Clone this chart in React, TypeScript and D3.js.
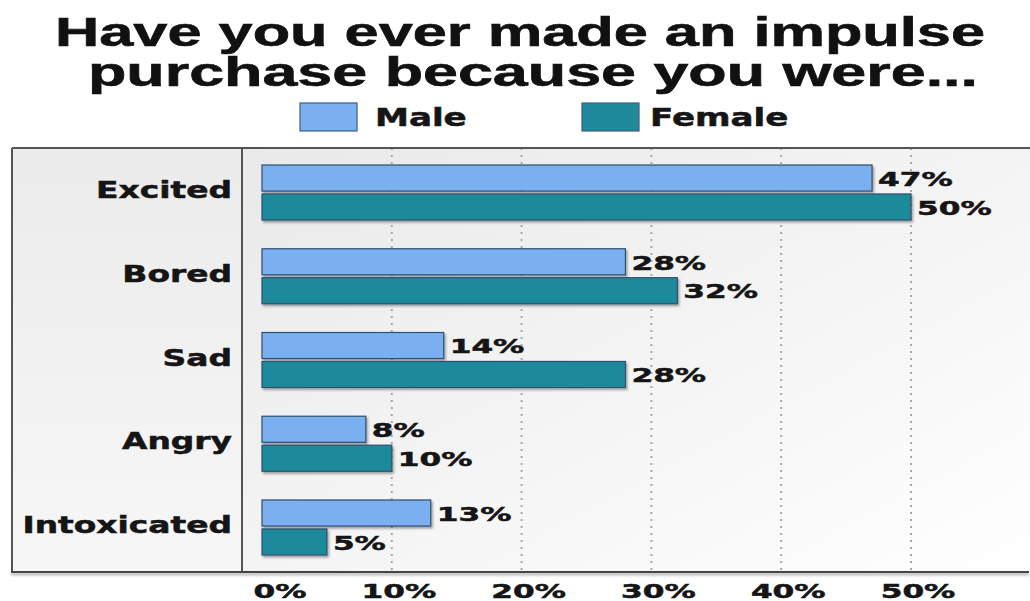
import React from "react";
import * as d3 from "d3";

const categories = ["Excited", "Bored", "Sad", "Angry", "Intoxicated"];
const maleValues = [47, 28, 14, 8, 13];
const femaleValues = [50, 32, 28, 10, 5];
const seriesNames = ["Male", "Female"];
const tickValues = [0, 10, 20, 30, 40, 50];
const titleLines = ["Have you ever made an impulse", "purchase because you were..."];

const W = 1030;
const H = 601;
const colors = { Male: "#7aaff0", Female: "#1f8a9b" };
const FONT = "'DejaVu Sans', sans-serif";

function StretchText({ x, y, sx, anchor, size, children, baseline }: any) {
  return (
    <g transform={`translate(${x},${y}) scale(${sx},1)`}>
      <text
        x={0}
        y={0}
        textAnchor={anchor}
        dominantBaseline={baseline || "auto"}
        fontFamily={FONT}
        fontWeight="bold"
        fontSize={size}
        fill="#151515"
        stroke="#151515"
        strokeWidth={0.5}
      >
        {children}
      </text>
    </g>
  );
}

export default function App() {
  const frameLeft = 12;
  const divider = 242;
  const top = 148;
  const bottom = 572;

  const x = d3.scaleLinear().domain([0, 10]).range([262, 391.8]);
  const y = d3.scaleBand<string>().domain(categories).range([top, bottom]).paddingInner(0.343).paddingOuter(0.203);
  const ys = d3.scaleBand<string>().domain(seriesNames).range([0, y.bandwidth()]).paddingInner(0.1);

  const data = categories.map((c, i) => ({ c, Male: maleValues[i], Female: femaleValues[i] }));

  return (
    <svg width={W} height={H} style={{ position: "absolute", left: 0, top: 0, background: "#fff" }}>
      <defs>
        <linearGradient id="plotBg" x1="0" y1="0" x2="1" y2="1">
          <stop offset="0%" stopColor="#e9e9e9" />
          <stop offset="60%" stopColor="#f6f6f6" />
          <stop offset="100%" stopColor="#ffffff" />
        </linearGradient>
        <linearGradient id="leftBg" x1="0" y1="0" x2="0" y2="1">
          <stop offset="0%" stopColor="#ebebeb" />
          <stop offset="100%" stopColor="#f7f7f7" />
        </linearGradient>
        <filter id="shadow" x="-5%" y="-20%" width="110%" height="160%">
          <feDropShadow dx="1.5" dy="2" stdDeviation="1.2" floodColor="#000" floodOpacity="0.35" />
        </filter>
        <filter id="lineShadow" filterUnits="userSpaceOnUse" x="0" y="560" width="1030" height="30">
          <feDropShadow dx="0" dy="2" stdDeviation="1.5" floodColor="#000" floodOpacity="0.4" />
        </filter>
      </defs>

      {/* title */}
      {titleLines.map((t, i) => (
        <text
          key={t}
          x={i === 0 ? 55 : 88}
          y={i === 0 ? 46 : 86}
          textLength={i === 0 ? 930 : 890}
          lengthAdjust="spacingAndGlyphs"
          fontFamily="'Liberation Sans', Arial, sans-serif"
          fontWeight="bold"
          fontSize={40}
          fill="#111"
          stroke="#111"
          strokeWidth={0.6}
        >
          {t}
        </text>
      ))}

      {/* legend */}
      {seriesNames.map((s, i) => {
        const lx = i === 0 ? 300 : 582;
        return (
          <g key={s}>
            <rect x={lx} y={103} width={57} height={28} fill={(colors as any)[s]} stroke="#3d5f85" strokeWidth={1.2} />
            <StretchText x={lx + (i === 0 ? 75 : 68)} y={126} sx={1.42} anchor="start" size={24}>
              {s}
            </StretchText>
          </g>
        );
      })}

      {/* backgrounds */}
      <rect x={frameLeft} y={top} width={divider - frameLeft} height={bottom - top} fill="url(#leftBg)" />
      <rect x={divider} y={top} width={W - divider} height={bottom - top} fill="url(#plotBg)" />

      {/* grid */}
      {tickValues.filter((t) => t > 0).map((t) => (
        <line key={t} x1={x(t)} x2={x(t)} y1={top} y2={bottom} stroke="#a8a8a8" strokeWidth={2} strokeDasharray="2,5" />
      ))}

      {/* frame */}
      <rect x={frameLeft} y={top - 1} width={W - frameLeft} height={2} fill="#555" />
      <rect x={frameLeft - 1} y={top} width={2} height={bottom - top} fill="#555" />
      <rect x={divider - 1} y={top} width={2} height={bottom - top} fill="#555" />
      <rect x={frameLeft - 1} y={bottom - 1} width={W - frameLeft} height={2} fill="#444" filter="url(#lineShadow)" />

      {/* category labels */}
      {categories.map((c) => (
        <StretchText key={c} x={232} y={(y(c) as number) + y.bandwidth() / 2 - 2} sx={1.43} anchor="end" size={23} baseline="central">
          {c}
        </StretchText>
      ))}

      {/* bars */}
      {data.map((d) => (
        <g key={d.c} transform={`translate(0,${y(d.c)})`}>
          {seriesNames.map((s) => {
            const v = (d as any)[s] as number;
            const by = ys(s) as number;
            return (
              <g key={s}>
                <rect
                  x={x(0)}
                  y={by}
                  width={x(v) - x(0)}
                  height={ys.bandwidth()}
                  fill={(colors as any)[s]}
                  stroke="#2f4f70"
                  strokeWidth={1.2}
                  filter="url(#shadow)"
                />
                <StretchText x={x(v) + 6} y={by + ys.bandwidth() / 2 + 1} sx={1.6} anchor="start" size={19.5} baseline="central">
                  {`${v}%`}
                </StretchText>
              </g>
            );
          })}
        </g>
      ))}

      {/* axis tick labels */}
      {tickValues.map((t) => (
        <StretchText key={t} x={x(t) + (t === 0 ? 18 : 7)} y={598} sx={1.6} anchor="middle" size={19.5}>
          {`${t}%`}
        </StretchText>
      ))}
    </svg>
  );
}
